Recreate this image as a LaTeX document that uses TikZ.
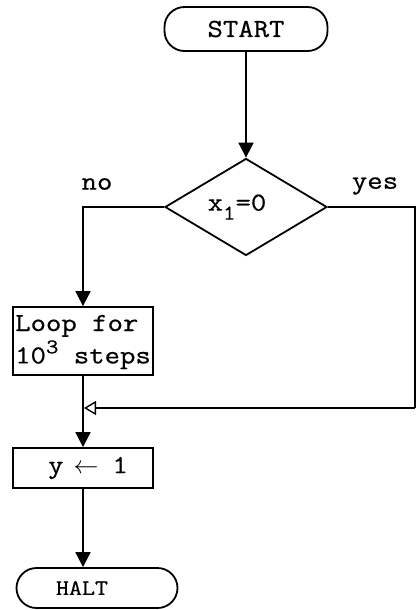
\documentclass[tikz,border=0pt]{standalone}
\usepackage{fontspec}
\setmainfont{Latin Modern Mono}[FakeStretch=1.15,FakeBold=0.6]
\usetikzlibrary{arrows.meta,shapes.geometric}
\begin{document}
\begin{tikzpicture}[x=1pt,y=-1pt,
  line width=1.8pt,
  every node/.style={font=\fontsize{26}{31}\selectfont},
  term/.style={draw, rounded corners=20pt, minimum width=163pt, minimum height=44pt, inner sep=0pt},
  box/.style={draw, minimum width=140pt, inner sep=0pt},
  cond/.style={draw, diamond, aspect=1.67, inner sep=0pt, minimum width=162pt, minimum height=97pt},
  flow/.style={-{Triangle[length=15pt,width=15pt]}},
  back/.style={-{Triangle[open,length=12pt,width=14pt,line width=1.4pt]}}
]
\useasboundingbox (0,0) rectangle (416,610);
\node[term] (start) at (246,29) {START};
\node[cond] (dec) at (246,207) {x\raisebox{-9pt}{\fontsize{21}{21}\selectfont 1}=0\hspace*{18pt}};
\node[box, minimum height=68pt] (loop) at (83,341) {\begin{tabular}{@{}l@{}}Loop for\\10\raisebox{10pt}{\fontsize{21}{21}\selectfont 3} steps\end{tabular}};
\node[box, minimum height=40pt] (ybox) at (83,468) {\hspace*{10pt}y\hspace*{10pt}$\leftarrow$\hspace*{14pt}1};
\node[term, minimum width=161pt, minimum height=40pt, font=\fontsize{22}{26}\selectfont] (halt) at (97,588) {HALT\hspace*{30pt}};
\node (no) at (97,184) {no};
\node (yes) at (375,186) {yes};
\coordinate (rc) at (415,207);
\coordinate (rb) at (415,408);
\coordinate (join) at (84,408);
\draw[flow] (start) -- (dec);
\draw[flow] (dec.west) -| (loop.north);
\draw (dec.east) -- (rc) -- (rb);
\draw[back] (rb) -- (join);
\draw[flow] (loop.south) -- (ybox.north);
\draw[flow] (ybox.south) -- (ybox.south |- halt.north);
\end{tikzpicture}
\end{document}
